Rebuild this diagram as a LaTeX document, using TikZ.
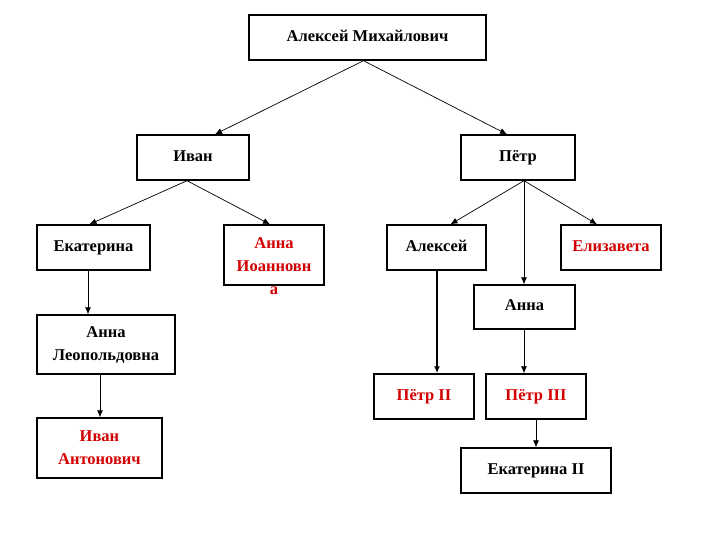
\documentclass[tikz,border=0pt]{standalone}
\usepackage{fontspec}
\setmainfont{Liberation Serif}
\usepackage{tikz}
\usetikzlibrary{arrows.meta,positioning}
\definecolor{namered}{RGB}{210,0,0}
\tikzset{
  person/.style={draw,line width=1.4pt,inner sep=0pt,align=center,
    font=\fontsize{16.5}{23}\selectfont\bfseries},
  royal/.style={person,text=namered},
  link/.style={-{Latex[length=7pt,width=6pt]},line width=0.7pt}
}
\begin{document}
\begin{tikzpicture}[x=1pt,y=-1pt]
\useasboundingbox (0,0) rectangle (720,540);
\node[person,minimum width=237,minimum height=45] (am) at (367.5,37.5) {\raisebox{3pt}{Алексей Михайлович}};
\node[person,minimum width=112,minimum height=45] (ivan) at (193,157.5) {\raisebox{2pt}{Иван}};
\node[person,minimum width=114,minimum height=45] (petr) at (518,157.5) {\raisebox{2pt}{Пётр}};
\node[person,minimum width=113,minimum height=45] (ekat) at (93.5,247.5) {\raisebox{3pt}{Екатерина}};
\node[person,minimum width=100,minimum height=60] (annaI) at (274,255) {};
\node[royal,draw=none,anchor=north] (annaItext) at (274,237) {Анна\\Иоанновн\\а};
\node[person,minimum width=138,minimum height=59] (annaL) at (106,344.5) {Анна\\Леопольдовна};
\node[royal,minimum width=125,minimum height=60] (ivanA) at (99.5,448) {Иван\\Антонович};
\node[person,minimum width=99,minimum height=45] (aleks) at (436.5,247.5) {\raisebox{3pt}{Алексей}};
\node[royal,minimum width=100,minimum height=45] (eliz) at (611,247.5) {\raisebox{3pt}{Елизавета}};
\node[person,minimum width=101,minimum height=44] (anna) at (524.5,307) {\raisebox{3pt}{Анна}};
\node[royal,minimum width=100,minimum height=45] (petr2) at (424,396.5) {\raisebox{3pt}{Пётр II}};
\node[royal,minimum width=100,minimum height=45] (petr3) at (536,396.5) {\raisebox{3pt}{Пётр III}};
\node[person,minimum width=150,minimum height=45] (ekat2) at (536,470.5) {\raisebox{1pt}{Екатерина II}};
\draw[link] ([xshift=-4]am.south) -- ([xshift=22]ivan.north);
\draw[link] ([xshift=-4]am.south) -- ([xshift=-11]petr.north);
\draw[link] ([xshift=-6]ivan.south) -- ([xshift=-4]ekat.north);
\draw[link] ([xshift=-6]ivan.south) -- ([xshift=-4]annaI.north);
\draw[link] ([xshift=6]petr.south) -- ([xshift=14]aleks.north);
\draw[link] ([xshift=6]petr.south) -- ([xshift=-0.5]anna.north);
\draw[link] ([xshift=6]petr.south) -- ([xshift=-14]eliz.north);
\draw[link] ([xshift=-5.5]ekat.south) -- ([xshift=-18]annaL.north);
\draw[link] ([xshift=-6]annaL.south) -- ([xshift=0.5]ivanA.north);
\draw[link,line width=1.6pt] ([xshift=0.5]aleks.south) -- ([xshift=13]petr2.north);
\draw[link] ([xshift=-0.5]anna.south) -- ([xshift=-12]petr3.north);
\draw[link] (petr3.south) -- (ekat2.north);
\end{tikzpicture}
\end{document}
